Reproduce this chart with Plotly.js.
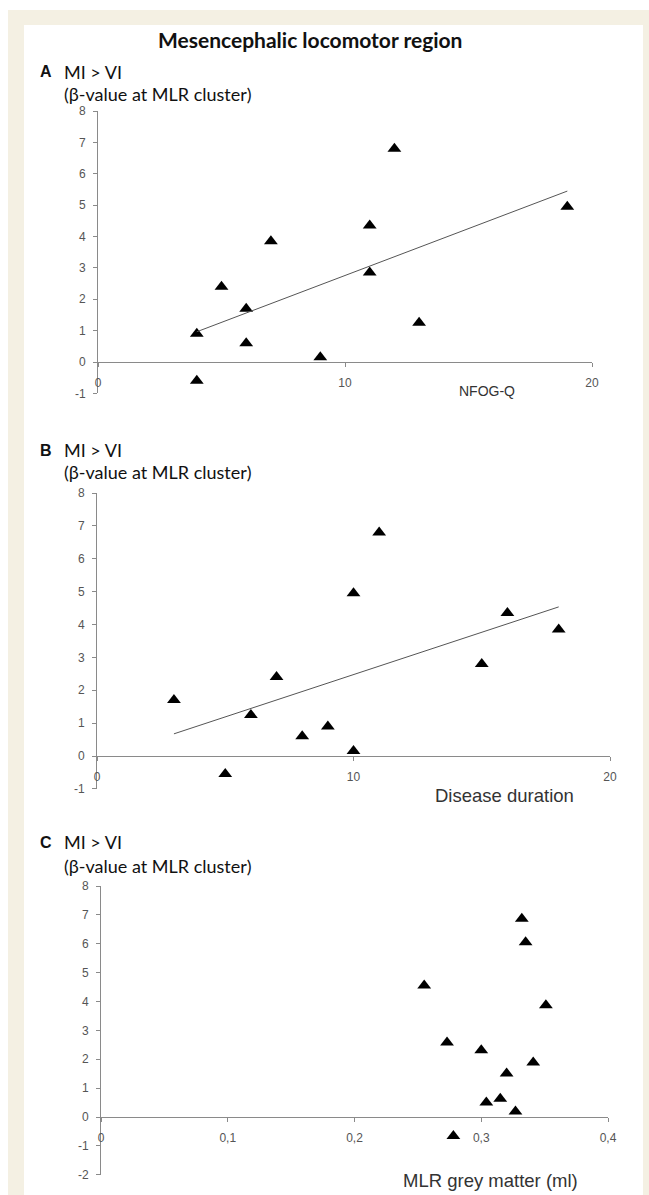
<!DOCTYPE html>
<html>
<head>
<meta charset="utf-8">
<script src="https://cdn.plot.ly/plotly-3.0.1.min.js"></script>
<style>html,body{margin:0;padding:0;background:#fff;}#chart{width:649px;height:1195px;}</style>
</head>
<body>
<div id="chart"></div>
<script>
// ---- data ----
const nfogQ = [4, 4, 5, 6, 6, 7, 9, 11, 11, 12, 13, 19];
const betaA = [0.9, -0.6, 2.4, 1.7, 0.6, 3.85, 0.15, 4.35, 2.85, 6.8, 1.25, 4.95];
const diseaseDuration = [3, 5, 6, 7, 8, 9, 10, 10, 11, 15, 16, 18];
const betaB = [1.7, -0.55, 1.25, 2.4, 0.6, 0.9, 4.95, 0.15, 6.8, 2.8, 4.35, 3.85];
const greyMatter = [0.255, 0.273, 0.278, 0.300, 0.304, 0.315, 0.320, 0.327, 0.332, 0.335, 0.341, 0.351];
const betaC = [4.55, 2.58, -0.66, 2.31, 0.5, 0.63, 1.51, 0.19, 6.87, 6.05, 1.89, 3.87];

// tick values and labels
const yTicksAB = [-1, 0, 1, 2, 3, 4, 5, 6, 7, 8];
const yTickTextAB = ["-1", "0", "1", "2", "3", "4", "5", "6", "7", "8"];
const yTicksC = [-2, -1, 0, 1, 2, 3, 4, 5, 6, 7, 8];
const yTickTextC = ["-2", "-1", "0", "1", "2", "3", "4", "5", "6", "7", "8"];
const xTicksAB = [0, 10, 20];
const xTickTextAB = ["0", "10", "20"];
const xTicksC = [0, 0.1, 0.2, 0.3, 0.4];
const xTickTextC = ["0", "0,1", "0,2", "0,3", "0,4"];

const xTitles = ["NFOG-Q", "Disease duration", "MLR grey matter (ml)"];
const panelLetters = ["A", "B", "C"];
const yLabel1 = "MI > VI";
const yLabel2 = "(β-value at MLR cluster)";
const mainTitle = "Mesencephalic locomotor region";

// ---- helpers ----
const W = 649, H = 1195;
const px = x => x / W;
const py = y => 1 - y / H;

function regression(xs, ys) {
  const n = xs.length;
  const mx = xs.reduce((a, b) => a + b, 0) / n;
  const my = ys.reduce((a, b) => a + b, 0) / n;
  let sxy = 0, sxx = 0;
  for (let i = 0; i < n; i++) { sxy += (xs[i] - mx) * (ys[i] - my); sxx += (xs[i] - mx) ** 2; }
  const b = sxy / sxx, a = my - b * mx;
  const x0 = Math.min(...xs), x1 = Math.max(...xs);
  return { x: [x0, x1], y: [a + b * x0, a + b * x1] };
}

const tickFont = { family: "Liberation Sans, Arial, sans-serif", size: 12, color: "#555" };
const textFont = { family: "Lato, Open Sans, sans-serif", size: 18, color: "#111" };
const axisColor = "#8a8a8a";
const markerStyle = { symbol: "triangle-up", size: 12, color: "#000" };

const traces = [
  { x: nfogQ, y: betaA, mode: "markers", type: "scatter", marker: markerStyle, xaxis: "x", yaxis: "y", showlegend: false, cliponaxis: false },
  Object.assign({ mode: "lines", type: "scatter", line: { color: "#555", width: 1 }, xaxis: "x", yaxis: "y", showlegend: false }, regression(nfogQ, betaA)),
  { x: diseaseDuration, y: betaB, mode: "markers", type: "scatter", marker: markerStyle, xaxis: "x2", yaxis: "y2", showlegend: false, cliponaxis: false },
  Object.assign({ mode: "lines", type: "scatter", line: { color: "#555", width: 1 }, xaxis: "x2", yaxis: "y2", showlegend: false }, regression(diseaseDuration, betaB)),
  { x: greyMatter, y: betaC, mode: "markers", type: "scatter", marker: markerStyle, xaxis: "x3", yaxis: "y3", showlegend: false, cliponaxis: false }
];

// panel geometry in pixels
const P = [
  { xl: 98, xr: 592, yTop: 111, yZero: 362, range: [-1, 8], xrange: [0, 20], xt: xTicksAB, xtt: xTickTextAB, yt: yTicksAB, ytt: yTickTextAB },
  { xl: 97, xr: 610, yTop: 493, yZero: 756, range: [-1, 8], xrange: [0, 20], xt: xTicksAB, xtt: xTickTextAB, yt: yTicksAB, ytt: yTickTextAB },
  { xl: 101, xr: 608, yTop: 886, yZero: 1117, range: [-2, 8], xrange: [0, 0.4], xt: xTicksC, xtt: xTickTextC, yt: yTicksC, ytt: yTickTextC }
];

const layout = {
  width: W, height: H,
  margin: { l: 0, r: 0, t: 0, b: 0 },
  paper_bgcolor: "#ffffff",
  plot_bgcolor: "rgba(0,0,0,0)",
  showlegend: false,
  shapes: [
    { type: "rect", xref: "paper", yref: "paper", x0: px(8), x1: px(649), y0: py(1195), y1: py(10), fillcolor: "#f4f0e3", line: { width: 0 }, layer: "below" },
    { type: "rect", xref: "paper", yref: "paper", x0: px(24), x1: px(643), y0: py(1195), y1: py(25), fillcolor: "#ffffff", line: { width: 0 }, layer: "below" }
  ],
  annotations: [
    { text: "<b>" + mainTitle + "</b>", xref: "paper", yref: "paper", x: px(310), y: py(40), xanchor: "center", yanchor: "middle", showarrow: false, font: { family: "Lato, Open Sans, sans-serif", size: 21, color: "#111" } }
  ]
};

const labelRows = [[72, 94], [450, 472], [842, 866]];
const xTitleSpec = [
  { x: 487, y: 391, size: 14 },
  { x: 504, y: 795, size: 18.5 },
  { x: 490, y: 1180, size: 18.5 }
];

P.forEach((p, i) => {
  const n = i === 0 ? "" : String(i + 1);
  const yMin = p.range[0], yMax = p.range[1];
  const unit = (p.yZero - p.yTop) / yMax;
  const yBottom = p.yZero - yMin * unit;
  layout["xaxis" + n] = {
    domain: [px(p.xl), px(p.xr)],
    range: p.xrange,
    anchor: "free",
    position: py(p.yZero),
    showline: true, linecolor: axisColor, linewidth: 1,
    ticks: "outside", ticklen: 4, tickcolor: axisColor,
    ticklabelstandoff: 6,
    tickmode: "array", tickvals: p.xt, ticktext: p.xtt,
    showgrid: false, zeroline: false,
    tickfont: tickFont,
    fixedrange: true
  };
  layout["yaxis" + n] = {
    domain: [py(yBottom), py(p.yTop)],
    range: p.range,
    anchor: "x" + n,
    showline: true, linecolor: axisColor, linewidth: 1,
    ticks: "outside", ticklen: 4, tickcolor: axisColor,
    ticklabelstandoff: 5,
    tickmode: "array", tickvals: p.yt, ticktext: p.ytt,
    showgrid: false, zeroline: false,
    tickfont: tickFont,
    fixedrange: true
  };
  layout.annotations.push(
    { text: "<b>" + panelLetters[i] + "</b>", xref: "paper", yref: "paper", x: px(38), y: py(labelRows[i][0]), xanchor: "left", yanchor: "middle", showarrow: false, font: { family: "Liberation Sans, Arial, sans-serif", size: 16, color: "#111" } },
    { text: yLabel1, xref: "paper", yref: "paper", x: px(62), y: py(labelRows[i][0]), xanchor: "left", yanchor: "middle", showarrow: false, font: textFont },
    { text: yLabel2, xref: "paper", yref: "paper", x: px(62), y: py(labelRows[i][1]), xanchor: "left", yanchor: "middle", showarrow: false, font: textFont },
    { text: xTitles[i], xref: "paper", yref: "paper", x: px(xTitleSpec[i].x), y: py(xTitleSpec[i].y), xanchor: "center", yanchor: "middle", showarrow: false, font: { family: "Liberation Sans, Arial, sans-serif", size: xTitleSpec[i].size, color: "#333" } }
  );
});

Plotly.newPlot("chart", traces, layout, { staticPlot: true, displayModeBar: false });
</script>
</body>
</html>
